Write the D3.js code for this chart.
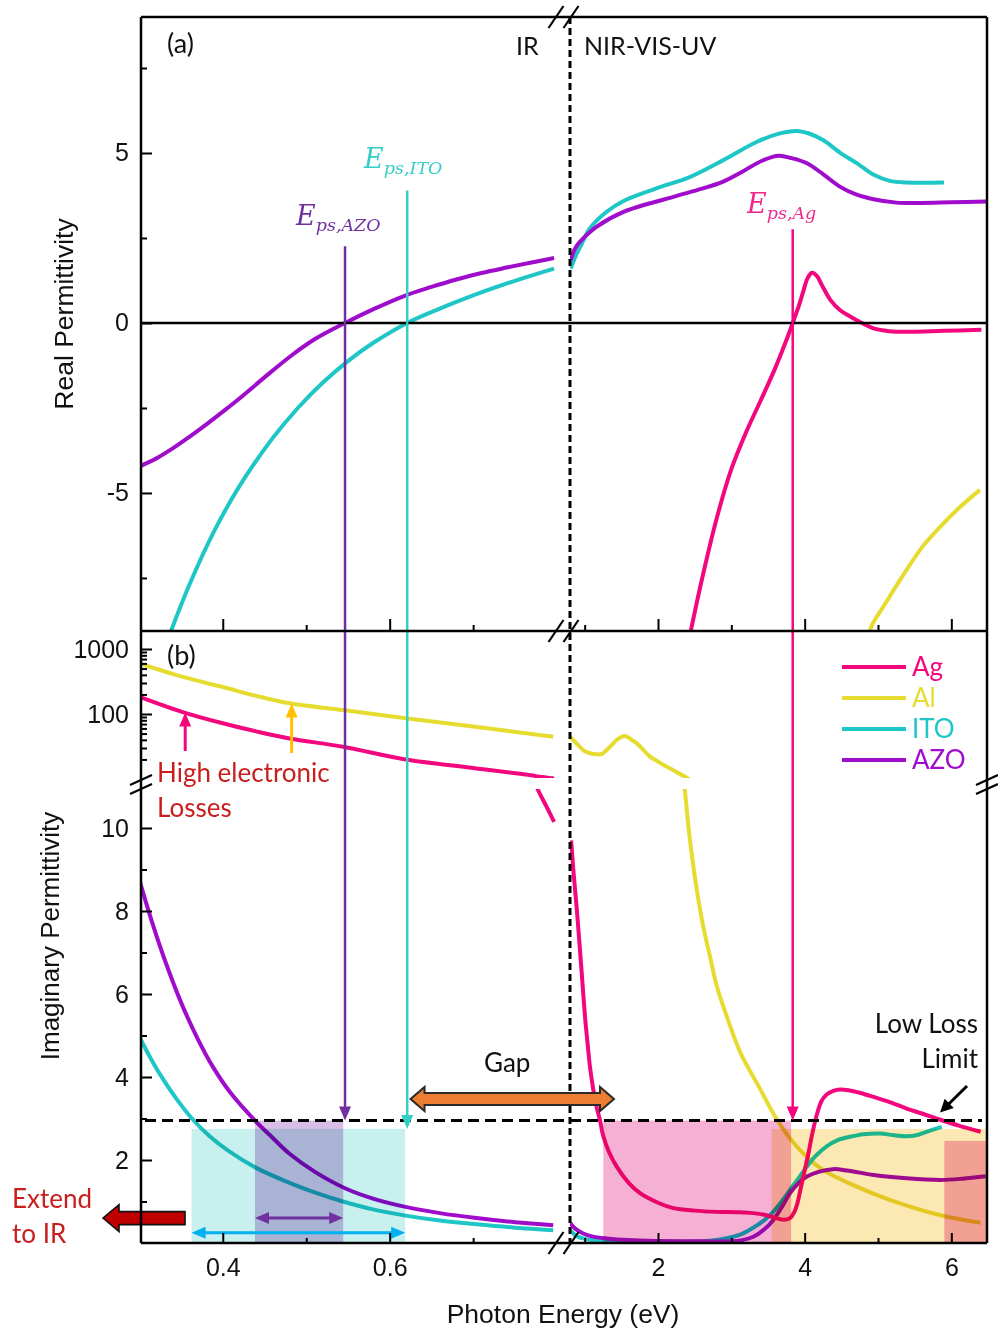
<!DOCTYPE html>
<html>
<head>
<meta charset="utf-8">
<script src="https://cdn.jsdelivr.net/npm/d3@7"></script>
<style>
  html, body { margin: 0; padding: 0; background: #fff; }
  svg { display: block; }
</style>
</head>
<body>
<svg id="chart" width="998" height="1333"></svg>
<script>
// ---------------- data ----------------
// Real permittivity, IR segment (eV, eps')
const realAZO_IR = [[0.30,-4.22],[0.32,-3.99],[0.34,-3.69],[0.36,-3.35],[0.38,-2.99],[0.40,-2.61],[0.42,-2.22],[0.45,-1.6],[0.48,-1.0],[0.51,-0.48],[0.5465,0],[0.58,0.4],[0.618,0.8],[0.65,1.06],[0.68,1.28],[0.71,1.47],[0.74,1.63],[0.77,1.78],[0.797,1.91]];
const realITO_IR = [[0.333,-9.4],[0.338,-9.06],[0.36,-7.70],[0.39,-6.11],[0.42,-4.80],[0.46,-3.38],[0.49,-2.50],[0.52,-1.75],[0.55,-1.12],[0.58,-0.59],[0.621,0],[0.65,0.32],[0.70,0.81],[0.75,1.24],[0.797,1.60]];
// Real permittivity, NIR-VIS-UV segment
const realITO_VIS = [[0.81,1.6],[0.88,1.98],[0.94,2.24],[1.07,2.78],[1.3,3.27],[1.53,3.59],[1.98,3.96],[2.44,4.3],[2.89,4.79],[3.35,5.33],[3.65,5.57],[3.89,5.65],[4.05,5.58],[4.25,5.38],[4.5,4.98],[4.71,4.7],[4.95,4.35],[5.16,4.18],[5.4,4.13],[5.9,4.13]];
const realAZO_VIS = [[0.81,1.85],[0.85,2.1],[0.9,2.3],[0.98,2.49],[1.16,2.83],[1.53,3.27],[2.21,3.71],[2.6,3.95],[2.89,4.16],[3.15,4.45],[3.35,4.7],[3.55,4.88],[3.66,4.92],[3.8,4.86],[4.03,4.7],[4.25,4.38],[4.48,4.01],[4.7,3.78],[4.94,3.64],[5.25,3.54],[5.6,3.53],[6.0,3.55],[6.48,3.57]];
const realAg_VIS = [[2.42,-9.35],[2.45,-9.03],[2.6,-7.53],[2.8,-5.75],[3.0,-4.3],[3.2,-3.22],[3.4,-2.28],[3.6,-1.32],[3.75,-0.51],[3.837,0.0],[3.92,0.5],[3.98,0.92],[4.04,1.32],[4.1,1.48],[4.16,1.4],[4.25,1.05],[4.35,0.68],[4.48,0.38],[4.62,0.19],[4.78,0.0],[4.94,-0.16],[5.15,-0.24],[5.39,-0.26],[5.9,-0.23],[6.41,-0.2]];
const realAl_VIS = [[4.88,-9.3],[4.9,-8.98],[5.1,-8.25],[5.39,-7.26],[5.6,-6.6],[5.85,-5.99],[6.1,-5.45],[6.39,-4.91]];

// Imaginary permittivity, IR segment
const imagAl_IR = [[0.30,603],[0.351,375],[0.40,260],[0.44,190],[0.48,146],[0.544,115],[0.619,86],[0.70,64],[0.796,44.7]];
const imagAg_IR = [[0.30,184],[0.351,108],[0.40,72],[0.44,54],[0.48,42],[0.544,31.4],[0.619,20],[0.70,14.8],[0.773,11.2],[0.777,10.95],[0.787,10.55],[0.797,10.15]];
const imagITO_IR = [[0.30,4.97],[0.315,4.40],[0.33,3.90],[0.345,3.46],[0.363,3.0],[0.385,2.56],[0.406,2.23],[0.44,1.81],[0.48,1.45],[0.51,1.22],[0.544,1.0],[0.58,0.81],[0.619,0.66],[0.66,0.54],[0.704,0.45],[0.75,0.37],[0.796,0.31]];
const imagAZO_IR = [[0.30,8.75],[0.315,7.75],[0.33,6.85],[0.351,5.75],[0.37,4.92],[0.388,4.25],[0.41,3.6],[0.4386,2.95],[0.46,2.53],[0.48,2.15],[0.51,1.72],[0.5465,1.32],[0.58,1.07],[0.619,0.87],[0.66,0.72],[0.704,0.6],[0.75,0.5],[0.796,0.43]];
// Imaginary permittivity, NIR-VIS-UV segment
const imagAl_VIS = [[0.8,44.8],[0.88,36],[0.98,27.9],[1.05,25.5],[1.117,24.3],[1.23,24.3],[1.345,31.4],[1.45,41],[1.55,45.7],[1.63,41],[1.71,35.4],[1.8,28],[1.89,22.1],[2.0,18.5],[2.12,15.5],[2.25,12.8],[2.37,10.85],[2.43,9.8],[2.53,8.5],[2.62,7.6],[2.71,6.9],[2.8,6.2],[2.94,5.45],[3.12,4.6],[3.39,3.72],[3.62,2.98],[3.89,2.33],[4.25,1.76],[4.71,1.36],[5.16,1.04],[5.85,0.67],[6.4,0.49]];
const imagAg_VIS = [[0.815,9.7],[0.85,8.9],[0.89,8.1],[0.93,7.2],[0.96,6.5],[1.005,5.45],[1.04,4.8],[1.072,4.25],[1.117,3.7],[1.16,3.3],[1.21,2.95],[1.25,2.6],[1.33,2.2],[1.437,1.84],[1.6,1.45],[1.755,1.2],[2.0,0.97],[2.209,0.84],[2.5,0.78],[2.8,0.75],[3.1,0.74],[3.3,0.72],[3.45,0.68],[3.57,0.62],[3.71,0.56],[3.8,0.6],[3.86,0.75],[3.9,0.95],[3.95,1.35],[4.0,1.75],[4.05,2.15],[4.1,2.6],[4.17,3.12],[4.23,3.42],[4.3,3.58],[4.4,3.67],[4.48,3.7],[4.6,3.68],[4.75,3.62],[4.94,3.52],[5.15,3.4],[5.39,3.24],[5.6,3.12],[5.85,2.97],[6.1,2.83],[6.4,2.68]];
const imagITO_VIS = [[0.8,0.31],[0.85,0.22],[0.9,0.16],[0.98,0.11],[1.1,0.07],[1.3,0.05],[1.6,0.04],[2.0,0.03],[2.4,0.03],[2.6,0.04],[2.8,0.07],[2.95,0.12],[3.12,0.2],[3.3,0.37],[3.45,0.55],[3.57,0.75],[3.7,1.03],[3.8,1.28],[3.92,1.57],[4.03,1.84],[4.15,2.1],[4.3,2.33],[4.45,2.48],[4.62,2.56],[4.8,2.62],[5.03,2.64],[5.2,2.6],[5.39,2.57],[5.55,2.61],[5.66,2.68],[5.78,2.75],[5.87,2.8]];
const imagAZO_VIS = [[0.8,0.49],[0.85,0.38],[0.9,0.31],[0.98,0.23],[1.1,0.16],[1.3,0.11],[1.6,0.07],[2.0,0.05],[2.6,0.04],[3.0,0.04],[3.15,0.07],[3.3,0.15],[3.45,0.33],[3.57,0.55],[3.7,0.9],[3.8,1.2],[3.92,1.45],[4.03,1.6],[4.2,1.72],[4.39,1.78],[4.6,1.74],[4.94,1.64],[5.39,1.56],[5.85,1.52],[6.15,1.55],[6.47,1.61]];

// Screened plasma energies (eps' = 0 crossings) and the low-loss limit
const epsAZO = 0.5465, epsITO = 0.621, epsAg = 3.837;
const lowLossLimit = 2.95;

// Low-loss windows (eV range, upper eps'' bound)
const windowsIR  = [ {x0:0.3626, x1:0.6186, top:2.75, fill:"#c8f0ee"},
                     {x0:0.4386, x1:0.5443, top:2.95, fill:"#d8bee4"} ];
const windowsVIS = [ {x0:1.254, x1:3.815, top:2.95, fill:"#f5b0d4"},
                     {x0:3.55,  x1:6.5,   top:2.75, fill:"#fce8b2"},
                     {x0:5.905, x1:6.5,   top:2.46, fill:"#f5b0d4"} ];

// Ticks
const realMajor = [-5, 0, 5], realMinor = [-7.5, -2.5, 2.5, 7.5];
const linMajor = [2, 4, 6, 8, 10], linMinor = [1, 3, 5, 7, 9];
const logMajor = [100, 1000];
const logMinor = [20,30,40,50,60,70,80,90,200,300,400,500,600,700,800,900];
const irMajor = [0.4, 0.6], irMinor = [0.5, 0.7];
const visMajor = [2, 4, 6], visMinor = [1, 3, 5];

const materials = ["Ag", "Al", "ITO", "AZO"];
const colors = { Ag: "#f2077f", Al: "#e6dc30", ITO: "#1ec6c6", AZO: "#a00ccb" };

// ---------------- layout ----------------
const FONT_SANS = "'Liberation Sans', Arial, sans-serif";
const FONT_NOTE = "Lato, 'Open Sans', sans-serif";
const FONT_MATH = "'DejaVu Serif', serif";

const L = 141, R = 987, TOP = 17, MID = 631, BOT = 1243;
const IR_END = 557, VIS_START = 570;
const LOG_BOTTOM = 778, LIN_TOP = 789;

const xIR  = d3.scaleLinear().domain([0.3, 0.8]).range([139.3, 556.6]);
const xVIS = d3.scaleLinear().domain([0.8, 6.5]).range([570, 988]);
const yRe  = d3.scaleLinear().domain([-9.06, 9]).range([MID, TOP]);
const yLog = d3.scaleLog().domain([10, 1000]).range([779, 649]);
const yLin = d3.scaleLinear().domain([0, 10]).range([BOT, 828]);

const svg = d3.select("#chart");
const defs = svg.append("defs");

function clip(id, x0, x1, y0, y1) {
  defs.append("clipPath").attr("id", id).append("rect")
    .attr("x", x0).attr("y", y0).attr("width", x1 - x0).attr("height", y1 - y0);
  return `url(#${id})`;
}
const cA_IR   = clip("cA_IR",   L, IR_END, TOP, MID);
const cA_VIS  = clip("cA_VIS",  VIS_START, R, TOP, MID);
const cLog_IR = clip("cLog_IR", L, IR_END, MID, LOG_BOTTOM);
const cLog_VIS= clip("cLog_VIS",VIS_START, R, MID, LOG_BOTTOM);
const cLin_IR = clip("cLin_IR", L, IR_END, LIN_TOP, BOT);
const cLin_VIS= clip("cLin_VIS",VIS_START, R, LIN_TOP, BOT);

const gCurves = svg.append("g");
function curve(data, x, y, clipUrl, color) {
  const line = d3.line().x(d => x(d[0])).y(d => y(d[1])).curve(d3.curveCatmullRom.alpha(0.5));
  gCurves.append("path").attr("d", line(data)).attr("clip-path", clipUrl)
    .attr("fill", "none").attr("stroke", color).attr("stroke-width", 4)
    .attr("stroke-linejoin", "round");
}

// zero line of panel (a)
svg.append("line").attr("x1", L).attr("x2", R).attr("y1", yRe(0)).attr("y2", yRe(0))
  .attr("stroke", "#000").attr("stroke-width", 2.5);

// panel (a) curves
curve(realITO_IR, xIR, yRe, cA_IR, colors.ITO);
curve(realAZO_IR, xIR, yRe, cA_IR, colors.AZO);
curve(realITO_VIS, xVIS, yRe, cA_VIS, colors.ITO);
curve(realAZO_VIS, xVIS, yRe, cA_VIS, colors.AZO);
curve(realAg_VIS, xVIS, yRe, cA_VIS, colors.Ag);
curve(realAl_VIS, xVIS, yRe, cA_VIS, colors.Al);

// panel (b) curves: log section on top, linear section below
curve(imagAl_IR, xIR, yLog, cLog_IR, colors.Al);
curve(imagAg_IR, xIR, yLog, cLog_IR, colors.Ag);
curve(imagAg_IR, xIR, yLin, cLin_IR, colors.Ag);
curve(imagITO_IR, xIR, yLin, cLin_IR, colors.ITO);
curve(imagAZO_IR, xIR, yLin, cLin_IR, colors.AZO);
curve(imagAl_VIS, xVIS, yLog, cLog_VIS, colors.Al);
curve(imagAl_VIS, xVIS, yLin, cLin_VIS, colors.Al);
curve(imagITO_VIS, xVIS, yLin, cLin_VIS, colors.ITO);
curve(imagAZO_VIS, xVIS, yLin, cLin_VIS, colors.AZO);
curve(imagAg_VIS, xVIS, yLin, cLin_VIS, colors.Ag);

// low-loss limit and IR / NIR separator
svg.append("line").attr("x1", L + 4).attr("x2", R - 5)
  .attr("y1", yLin(lowLossLimit)).attr("y2", yLin(lowLossLimit))
  .attr("stroke", "#000").attr("stroke-width", 3).attr("stroke-dasharray", "11,6");
svg.append("line").attr("x1", VIS_START).attr("x2", VIS_START).attr("y1", TOP).attr("y2", BOT)
  .attr("stroke", "#000").attr("stroke-width", 3).attr("stroke-dasharray", "7,4");

// low-loss windows, multiplied over the curves
const gWin = svg.append("g");
function windows(list, x) {
  gWin.selectAll(null).data(list).enter().append("rect")
    .attr("x", d => x(d.x0)).attr("width", d => Math.min(x(d.x1), R) - x(d.x0))
    .attr("y", d => yLin(d.top)).attr("height", d => BOT - yLin(d.top))
    .attr("fill", d => d.fill).style("mix-blend-mode", "multiply");
}
windows(windowsIR, xIR);
windows(windowsVIS, xVIS);

// helpers for arrows
function arrowHead(g, tipX, tipY, dx, dy, len, half, color) {
  const bx = tipX - dx * len, by = tipY - dy * len;
  const px = -dy, py = dx;
  g.append("path")
    .attr("d", `M${tipX},${tipY}L${bx + px * half},${by + py * half}L${bx - px * half},${by - py * half}Z`)
    .attr("fill", color);
}
function vArrow(x, y0, y1, color, w) {
  const g = svg.append("g");
  g.append("line").attr("x1", x).attr("x2", x).attr("y1", y0).attr("y2", y1 + (y1 > y0 ? -8 : 8))
    .attr("stroke", color).attr("stroke-width", w);
  arrowHead(g, x, y1, 0, y1 > y0 ? 1 : -1, 14, 6, color);
}
function hDouble(x0, x1, y, color) {
  const g = svg.append("g");
  g.append("line").attr("x1", x0 + 8).attr("x2", x1 - 8).attr("y1", y).attr("y2", y)
    .attr("stroke", color).attr("stroke-width", 3);
  arrowHead(g, x0, y, -1, 0, 14, 6, color);
  arrowHead(g, x1, y, 1, 0, 14, 6, color);
}

// screened plasma energy markers
vArrow(xIR(epsAZO), yRe(2.26), yLin(lowLossLimit), "#7030a0", 2.5);
vArrow(xIR(epsITO), yRe(3.9), yLin(2.75), "#33cfc6", 2.5);
vArrow(xVIS(epsAg), yRe(2.76), yLin(lowLossLimit), "#f2077f", 2.5);

function epsLabel(x, y, sub, color) {
  const t = svg.append("text").attr("x", x).attr("y", y)
    .attr("font-family", FONT_MATH).attr("font-style", "italic").attr("fill", color);
  t.append("tspan").attr("font-size", 27).text("E");
  t.append("tspan").attr("font-size", 17.5).attr("dy", 6).text(sub);
}
epsLabel(296, 225, "ps,AZO", "#7030a0");
epsLabel(364, 168, "ps,ITO", "#33cfc6");
epsLabel(747, 213, "ps,Ag", "#f0288c");

// window width arrows
hDouble(xIR(windowsIR[1].x0), xIR(windowsIR[1].x1), yLin(0.6), "#7030a0");
hDouble(xIR(windowsIR[0].x0), xIR(windowsIR[0].x1), yLin(0.25), "#00b0f0");

// "Gap" block arrow
(function () {
  const xa = xIR(0.625), xb = xVIS(1.4), yc = yLin(3.47), hl = 14, hs = 6, hh = 12;
  svg.append("path")
    .attr("d", `M${xa},${yc}L${xa + hl},${yc - hh}L${xa + hl},${yc - hs}L${xb - hl},${yc - hs}L${xb - hl},${yc - hh}L${xb},${yc}L${xb - hl},${yc + hh}L${xb - hl},${yc + hs}L${xa + hl},${yc + hs}L${xa + hl},${yc + hh}Z`)
    .attr("fill", "#ed7d31").attr("stroke", "#2a2a2a").attr("stroke-width", 2).attr("stroke-linejoin", "miter");
})();

// "Extend to IR" block arrow
(function () {
  const tip = 103, neck = 119, tail = 185, yc = yLin(0.6), hs = 6.5, hh = 13.5;
  svg.append("path")
    .attr("d", `M${tip},${yc}L${neck},${yc - hh}L${neck},${yc - hs}L${tail},${yc - hs}L${tail},${yc + hs}L${neck},${yc + hs}L${neck},${yc + hh}Z`)
    .attr("fill", "#c00000").attr("stroke", "#111").attr("stroke-width", 1.6);
})();

// "Low Loss Limit" pointer
(function () {
  const g = svg.append("g");
  const x0 = 967, y0 = 1086, x1 = xVIS(5.9) - 4, y1 = yLin(lowLossLimit) - 8;
  const len = Math.hypot(x1 - x0, y1 - y0), dx = (x1 - x0) / len, dy = (y1 - y0) / len;
  g.append("line").attr("x1", x0).attr("y1", y0).attr("x2", x1 - dx * 8).attr("y2", y1 - dy * 8)
    .attr("stroke", "#000").attr("stroke-width", 3);
  arrowHead(g, x1, y1, dx, dy, 13, 6.5, "#000");
})();

// "High electronic losses" pointers
vArrow(xIR(0.355), 751, yLog(105), "#f2077f", 3);
vArrow(xIR(0.4825), 753, yLog(145), "#ffc000", 3);

// ---------------- axes ----------------
const plain = d => String(d);
function styleAxis(g, labelSize) {
  g.select(".domain").remove();
  g.selectAll("line").attr("stroke", "#000").attr("stroke-width", 2);
  g.selectAll("text").attr("font-family", FONT_SANS).attr("font-size", labelSize).attr("fill", "#111");
}
// panel (a) left
svg.append("g").attr("transform", `translate(${L},0)`)
  .call(d3.axisLeft(yRe).tickValues(realMajor).tickSizeInner(-11).tickSizeOuter(0).tickPadding(12).tickFormat(plain))
  .call(g => styleAxis(g, 25));
svg.append("g").attr("transform", `translate(${L},0)`)
  .call(d3.axisLeft(yRe).tickValues(realMinor).tickSizeInner(-6).tickSizeOuter(0).tickFormat(() => ""))
  .call(g => styleAxis(g, 25));
// panel (b) left, linear and log
svg.append("g").attr("transform", `translate(${L},0)`)
  .call(d3.axisLeft(yLin).tickValues(linMajor).tickSizeInner(-11).tickSizeOuter(0).tickPadding(12).tickFormat(plain))
  .call(g => styleAxis(g, 25));
svg.append("g").attr("transform", `translate(${L},0)`)
  .call(d3.axisLeft(yLin).tickValues(linMinor).tickSizeInner(-6).tickSizeOuter(0).tickFormat(() => ""))
  .call(g => styleAxis(g, 25));
svg.append("g").attr("transform", `translate(${L},0)`)
  .call(d3.axisLeft(yLog).tickValues(logMajor).tickSizeInner(-11).tickSizeOuter(0).tickPadding(12).tickFormat(plain))
  .call(g => styleAxis(g, 25));
svg.append("g").attr("transform", `translate(${L},0)`)
  .call(d3.axisLeft(yLog).tickValues(logMinor).tickSizeInner(-6).tickSizeOuter(0).tickFormat(() => ""))
  .call(g => styleAxis(g, 25));

// bottom axes of both panels (ticks pointing inward)
function bottomAxes(y, labels, majorLen, minorLen) {
  [[xIR, irMajor, irMinor], [xVIS, visMajor, visMinor]].forEach(([x, maj, mnr]) => {
    svg.append("g").attr("transform", `translate(0,${y})`)
      .call(d3.axisBottom(x).tickValues(maj).tickSizeInner(-majorLen).tickSizeOuter(0).tickPadding(15)
        .tickFormat(labels ? plain : () => ""))
      .call(g => styleAxis(g, 25));
    svg.append("g").attr("transform", `translate(0,${y})`)
      .call(d3.axisBottom(x).tickValues(mnr).tickSizeInner(-minorLen).tickSizeOuter(0).tickFormat(() => ""))
      .call(g => styleAxis(g, 25));
  });
}
bottomAxes(MID, false, 12, 6);
bottomAxes(BOT, true, 10, 5);

// frame
const frame = svg.append("g").attr("stroke", "#000").attr("stroke-width", 2.5).attr("fill", "none");
frame.append("line").attr("x1", L).attr("x2", R).attr("y1", TOP).attr("y2", TOP);
frame.append("line").attr("x1", L).attr("x2", R).attr("y1", MID).attr("y2", MID);
frame.append("line").attr("x1", L).attr("x2", R).attr("y1", BOT).attr("y2", BOT);
frame.append("line").attr("x1", L).attr("x2", L).attr("y1", TOP).attr("y2", BOT);
frame.append("line").attr("x1", R).attr("x2", R).attr("y1", TOP).attr("y2", BOT);

// axis break marks
const brk = svg.append("g").attr("stroke", "#000").attr("stroke-width", 2.2);
[TOP, MID, BOT].forEach(y => {
  [556, 571].forEach(cx => {
    brk.append("line").attr("x1", cx - 7.5).attr("y1", y + 11).attr("x2", cx + 7.5).attr("y2", y - 11);
  });
});
[L, R].forEach(cx => {
  [780, 789].forEach(cy => {
    brk.append("line").attr("x1", cx - 11).attr("y1", cy + 5).attr("x2", cx + 11).attr("y2", cy - 5);
  });
});

// ---------------- text ----------------
function note(x, y, str, color, size, anchor) {
  svg.append("text").attr("x", x).attr("y", y).attr("font-family", FONT_NOTE)
    .attr("font-size", size || 26).attr("fill", color || "#111")
    .attr("text-anchor", anchor || "start").text(str);
}
note(167, 53, "(a)", "#111", 27);
note(516, 55, "IR", "#111", 25);
note(584, 55, "NIR-VIS-UV", "#111", 25);
note(167, 665, "(b)", "#111", 27);
note(157, 782, "High electronic", "#c81e1e", 26);
note(157, 817, "Losses", "#c81e1e", 26);
note(484, 1072, "Gap", "#111", 26);
note(978, 1033, "Low Loss", "#111", 26, "end");
note(978, 1068, "Limit", "#111", 26, "end");
note(12, 1208, "Extend", "#c81e1e", 26);
note(12, 1243, "to IR", "#c81e1e", 26);

// legend
const legY = [667, 698, 729, 760];
const leg = svg.append("g");
materials.forEach((m, i) => {
  leg.append("line").attr("x1", 842).attr("x2", 906).attr("y1", legY[i]).attr("y2", legY[i])
    .attr("stroke", colors[m]).attr("stroke-width", 4);
  leg.append("text").attr("x", 912).attr("y", legY[i] + 9).attr("font-family", FONT_NOTE)
    .attr("font-size", 26).attr("fill", colors[m]).text(m);
});

// axis titles
svg.append("text").attr("transform", "translate(73,314) rotate(-90)").attr("text-anchor", "middle")
  .attr("font-family", FONT_SANS).attr("font-size", 26.5).attr("fill", "#111").text("Real Permittivity");
svg.append("text").attr("transform", "translate(59,936) rotate(-90)").attr("text-anchor", "middle")
  .attr("font-family", FONT_SANS).attr("font-size", 26).attr("fill", "#111").text("Imaginary Permittivity");
svg.append("text").attr("x", 563).attr("y", 1323).attr("text-anchor", "middle")
  .attr("font-family", FONT_SANS).attr("font-size", 26.5).attr("fill", "#111").text("Photon Energy (eV)");
</script>
</body>
</html>
